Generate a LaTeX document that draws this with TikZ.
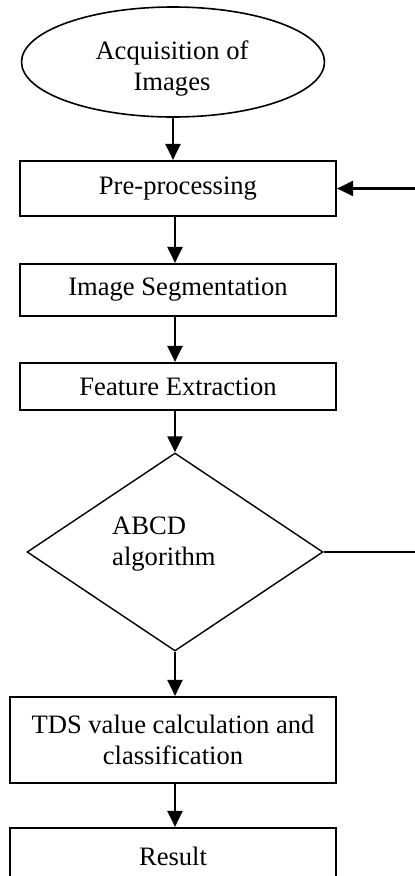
\documentclass[tikz,border=0pt]{standalone}
\usepackage{fontspec}
\setmainfont{Liberation Serif}
\usetikzlibrary{shapes.geometric,arrows.meta}
\begin{document}
\begin{tikzpicture}[x=1pt,y=-1pt,
  every node/.style={font=\fontsize{26.6}{30.5}\selectfont, inner sep=0pt},
  procbox/.style={draw, rectangle, line width=2.2pt},
  flow/.style={-{Triangle[length=16pt,width=15pt]}, line width=2.4pt},
  thinline/.style={line width=1.6pt},
]
\useasboundingbox (0,0) rectangle (415,876);
\clip (0,0) rectangle (415,876);

\node[draw, ellipse, line width=1.6pt, minimum width=303pt, minimum height=110pt] (acq) at (173,62) {};
\node[align=center] (acqtext) at (172,68.5) {Acquisition of\\Images};

\node[procbox, minimum width=316pt, minimum height=55pt] (pre) at (178,188.5) {Pre-processing};
\node[procbox, minimum width=316pt, minimum height=52pt] (seg) at (178,290) {Image Segmentation};
\node[procbox, minimum width=316pt, minimum height=47pt] (feat) at (178,386.5) {Feature Extraction};
\node[draw, diamond, line width=1.4pt, minimum width=296pt, minimum height=198pt] (dia) at (175,552) {};
\node[anchor=west, align=left] (abcd) at (112,544) {ABCD\\algorithm};
\node[procbox, minimum width=326pt, minimum height=86pt, align=center] (tds) at (173,740) {TDS value calculation and\\classification};
\node[procbox, minimum width=326pt, minimum height=56pt] (res) at (173,856) {Result};

\coordinate (fbin) at (415,188.5);
\coordinate (fbout) at (415,552);

\draw[flow] (acq.south) -- (acq.south |- pre.north);
\draw[flow] (dia.north |- pre.south) -- (dia.north |- seg.north);
\draw[flow] (dia.north |- seg.south) -- (dia.north |- feat.north);
\draw[flow] (dia.north |- feat.south) -- (dia.north);
\draw[flow] (dia.south) -- (dia.south |- tds.north);
\draw[flow] (dia.south |- tds.south) -- (dia.south |- res.north);
\draw[flow] (fbin) -- (pre.east);
\draw[thinline] (dia.east) -- (fbout);
\end{tikzpicture}
\end{document}
